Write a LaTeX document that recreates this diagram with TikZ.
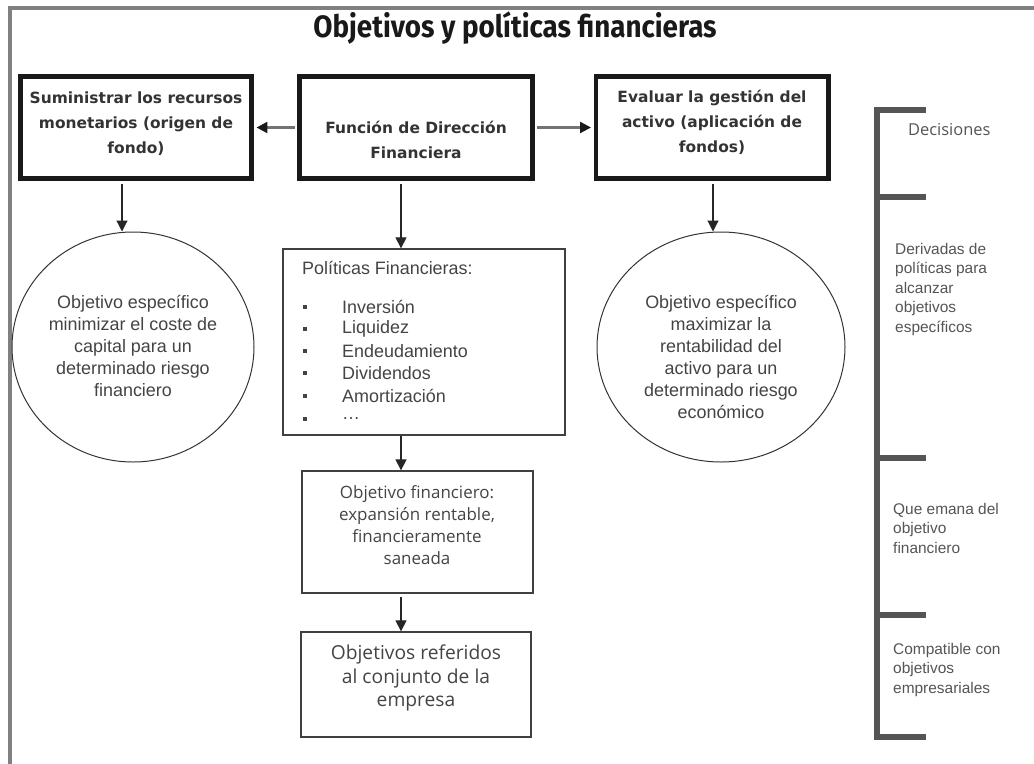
\documentclass[tikz,border=0pt]{standalone}
\usepackage{fontspec}
\setmainfont{Liberation Sans}
\newfontfamily\titlefont[FakeStretch=0.90]{Fira Sans}
\newfontfamily\boxfont{DejaVu Sans}
\newfontfamily\opfont{Open Sans}
\usetikzlibrary{arrows.meta,shapes.geometric}
\definecolor{frame}{HTML}{808080}
\definecolor{txt}{HTML}{444444}
\definecolor{brk}{HTML}{555555}
\newcommand\dotsword{\ldots}
\tikzset{
  thickbox/.style={draw=black!90, line width=5pt, fill=white},
  thinbox/.style={draw=black!75, line width=1.3pt},
  ell/.style={draw=black!80, line width=1pt},
  harrow/.style={draw=black!55, line width=2.4pt, -{Triangle[length=11bp,width=11bp,fill=black!90,color=black!90]}},
  varrow/.style={draw=black!85, line width=1.2pt, -{Triangle[length=11bp,width=11bp]}},
  bracket/.style={draw=brk, line width=5.5pt},
  toptxt/.style={font=\boxfont\bfseries\fontsize{15.5}{25}\selectfont, text=black!80, align=center},
  circtxt/.style={font=\fontsize{18}{22}\selectfont, text=txt, align=center},
  sidetxt/.style={font=\fontsize{15.5}{19.5}\selectfont, text=brk, align=left, anchor=north west, inner sep=0pt},
  itemtxt/.style={anchor=west, font=\fontsize{18}{18}\selectfont, text=txt, inner sep=0pt},
}
\begin{document}
\begin{tikzpicture}[x=1bp,y=-1bp]
\useasboundingbox (0,0) rectangle (1034,764);
\fill[white] (0,0) rectangle (1034,764);
% frame
\draw[frame, line width=4bp] (10,764) -- (10,8) -- (1034,8);
% title
\node (title) at (515,28) {\titlefont\bfseries\fontsize{31}{31}\selectfont\color{black!90}Objetivos y políticas financieras};
% top boxes
\node[thickbox, minimum width=231bp, minimum height=102bp] (b1) at (136,127.5) {};
\node[toptxt] at (136,124) {Suministrar los recursos\\monetarios (origen de\\fondo)};
\node[thickbox, minimum width=233bp, minimum height=102bp] (b2) at (416,127.5) {};
\node[toptxt] at (416,140) {Función de Dirección\\Financiera};
\node[thickbox, minimum width=232bp, minimum height=102bp] (b3) at (712,127.5) {};
\node[toptxt] at (712,122) {Evaluar la gestión del\\activo (aplicación de\\fondos)};
\draw[harrow] ([xshift=-2.5bp]b2.west) -- ([xshift=2.5bp]b1.east);
\draw[harrow] ([xshift=2.5bp]b2.east) -- ([xshift=-2.5bp]b3.west);
% circles
\node[ell, ellipse, minimum width=242bp, minimum height=230bp, inner sep=0pt] (c1) at (133,347) {};
\node[circtxt] at (133,346) {Objetivo específico\\minimizar el coste de\\capital para un\\determinado riesgo\\financiero};
\node[ell, ellipse, minimum width=248bp, minimum height=230bp, inner sep=0pt] (c3) at (721,347) {};
\node[circtxt] at (721,357) {Objetivo específico\\maximizar la\\rentabilidad del\\activo para un\\determinado riesgo\\económico};
% policies box
\node[thinbox, minimum width=282bp, minimum height=186bp, inner sep=0pt] (pol) at (424,342) {};
\node[itemtxt] at (302,268) {Políticas Financieras:};
\foreach \t/\yy in {Inversión/307, Liquidez/329, Endeudamiento/351, Dividendos/373, Amortización/396, \dotsword/419}{
  \fill[txt] (302.5,\yy-2) rectangle ++(4,4);
  \node[itemtxt] at (342,\yy) {\t};
}
% lower boxes
\node[thinbox, minimum width=231bp, minimum height=122bp, inner sep=0pt] (o1) at (417.5,532) {};
\node[font=\opfont\fontsize{17}{22}\selectfont, text=txt, align=center] at (417,525) {Objetivo financiero:\\expansión rentable,\\financieramente\\saneada};
\node[thinbox, minimum width=230bp, minimum height=105bp, inner sep=0pt] (o2) at (416,684.5) {};
\node[font=\opfont\fontsize{19.3}{23.5}\selectfont, text=txt, align=center] at (416,678) {Objetivos referidos\\al conjunto de la\\empresa};
% vertical arrows
\draw[varrow] ([yshift=-3bp]b1.south -| 122,0) -- (c1.north -| 122,0);
\draw[varrow] ([yshift=-3bp]b2.south -| 401,0) -- (pol.north -| 401,0);
\draw[varrow] ([yshift=-3bp]b3.south -| 713,0) -- (c3.north -| 713,0);
\draw[varrow] (pol.south -| 401,0) -- (o1.north -| 401,0);
\draw[varrow] ([yshift=-3bp]o1.south -| 401,0) -- (o2.north -| 401,0);
% bracket
\coordinate (k0) at (877,110);
\coordinate (k1) at (877,197);
\coordinate (k2) at (877,458);
\coordinate (k3) at (877,615);
\coordinate (k4) at (877,737);
\draw[bracket] (926,110) -- (k0) -- (k4) -- (926,737);
\draw[bracket] (k1) -- (926,197);
\draw[bracket] (k2) -- (926,458);
\draw[bracket] (k3) -- (926,615);
\node[anchor=west, font=\opfont\fontsize{16.5}{16.5}\selectfont, text=brk, inner sep=0pt] (d1) at (908,130) {Decisiones};
\node[sidetxt] (d2) at (895,243) {Derivadas de\\políticas para\\alcanzar\\objetivos\\específicos};
\node[sidetxt] (d3) at (893,503) {Que emana del\\objetivo\\financiero};
\node[sidetxt] (d4) at (893,643) {Compatible con\\objetivos\\empresariales};
\end{tikzpicture}
\end{document}
